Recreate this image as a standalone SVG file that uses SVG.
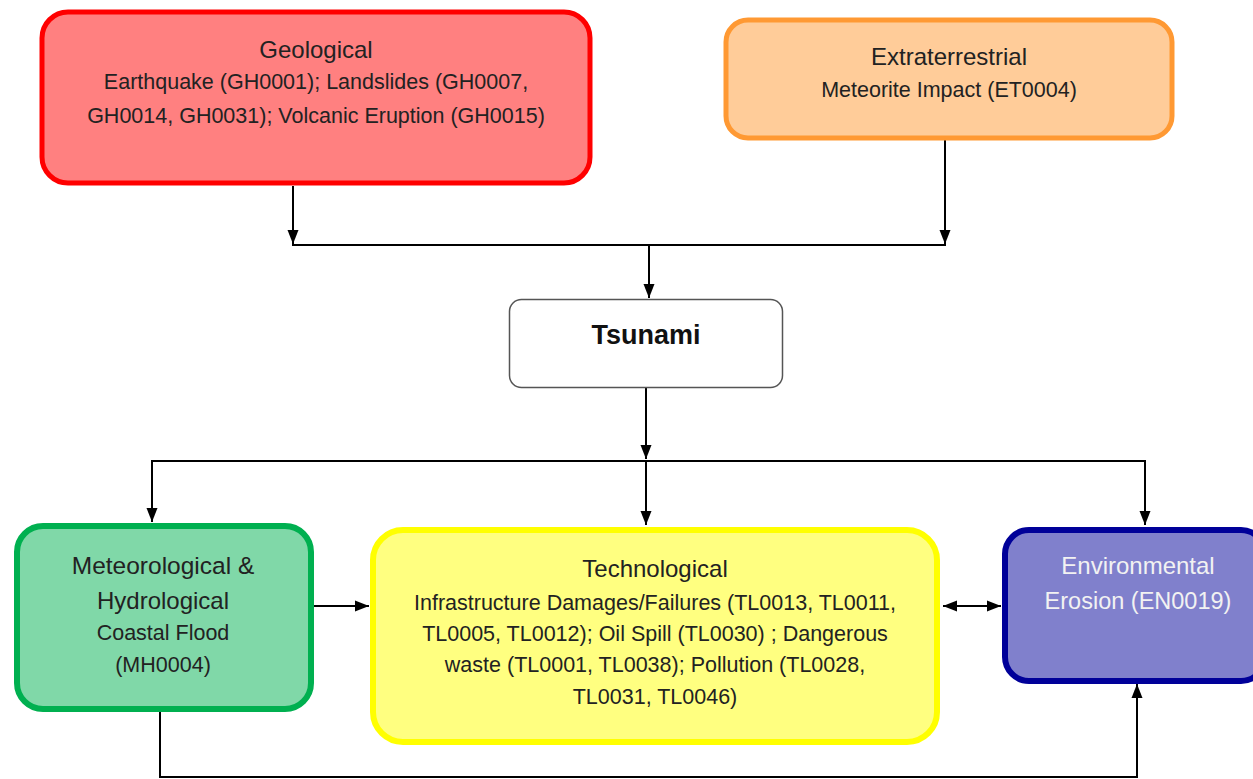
<svg xmlns="http://www.w3.org/2000/svg" width="1253" height="779" viewBox="0 0 1253 779">
<style>
.t{font-family:"Liberation Sans",Arial,sans-serif;text-anchor:middle;fill:#222}
.h{font-size:24px}
.b{font-size:21.5px}
.c{fill:none;stroke:#000;stroke-width:2}
</style>
<defs>
<marker id="ah" viewBox="0 0 14 12" refX="14" refY="6" markerWidth="14" markerHeight="12" markerUnits="userSpaceOnUse" orient="auto-start-reverse">
<path d="M0,0.5 L14,6 L0,11.5 Z" fill="#000"/>
</marker>
</defs>
<rect width="1253" height="779" fill="#fff"/>
<g id="connectors">
<line class="c" x1="293" y1="186" x2="293" y2="244" marker-end="url(#ah)"/>
<line class="c" x1="945" y1="140" x2="945" y2="244" marker-end="url(#ah)"/>
<line class="c" x1="292" y1="245" x2="946" y2="245"/>
<line class="c" x1="649" y1="245" x2="649" y2="298" marker-end="url(#ah)"/>
<line class="c" x1="646" y1="381" x2="646" y2="459" marker-end="url(#ah)"/>
<line class="c" x1="151" y1="461" x2="1146" y2="461"/>
<line class="c" x1="152" y1="461" x2="152" y2="522" marker-end="url(#ah)"/>
<line class="c" x1="646" y1="461" x2="646" y2="525" marker-end="url(#ah)"/>
<line class="c" x1="1145" y1="461" x2="1145" y2="525" marker-end="url(#ah)"/>
<line class="c" x1="314" y1="606" x2="369" y2="606" marker-end="url(#ah)"/>
<line class="c" x1="943" y1="606" x2="1001" y2="606" marker-start="url(#ah)" marker-end="url(#ah)"/>
<polyline class="c" points="160,712 160,777 1137,777 1137,684" marker-end="url(#ah)"/>
</g>
<g id="geological">
<rect x="42" y="12" width="548" height="171" rx="26" fill="#FF8080" stroke="#FF0000" stroke-width="5"/>
<text class="t h" x="316" y="58">Geological</text>
<text class="t b" x="316" y="89">Earthquake (GH0001); Landslides (GH0007,</text>
<text class="t b" x="316" y="123">GH0014, GH0031); Volcanic Eruption (GH0015)</text>
</g>
<g id="extraterrestrial">
<rect x="726" y="20" width="446" height="118" rx="22" fill="#FFCC99" stroke="#FF9933" stroke-width="5"/>
<text class="t h" x="949" y="65">Extraterrestrial</text>
<text class="t b" x="949" y="97">Meteorite Impact (ET0004)</text>
</g>
<g id="tsunami">
<rect x="509.5" y="299.5" width="273" height="88" rx="12" fill="#fff" stroke="#555" stroke-width="1.5"/>
<text class="t" x="646" y="344" style="font-size:27px;font-weight:bold;fill:#111">Tsunami</text>
</g>
<g id="meteorological">
<rect x="17" y="526" width="294" height="183" rx="26" fill="#80D8A8" stroke="#00B050" stroke-width="6"/>
<text class="t h" x="163" y="574" style="font-size:24.5px">Meteorological &amp;</text>
<text class="t h" x="163" y="609">Hydrological</text>
<text class="t b" x="163" y="640">Coastal Flood</text>
<text class="t b" x="163" y="672">(MH0004)</text>
</g>
<g id="technological">
<rect x="373" y="530" width="564" height="212" rx="30" fill="#FFFF80" stroke="#FFFF00" stroke-width="6"/>
<text class="t h" x="655" y="577">Technological</text>
<text class="t b" x="655" y="610">Infrastructure Damages/Failures (TL0013, TL0011,</text>
<text class="t b" x="655" y="641">TL0005, TL0012); Oil Spill (TL0030) ; Dangerous</text>
<text class="t b" x="655" y="672">waste (TL0001, TL0038); Pollution (TL0028,</text>
<text class="t b" x="655" y="704">TL0031, TL0046)</text>
</g>
<g id="environmental">
<rect x="1005" y="530" width="260" height="151" rx="24" fill="#8080CC" stroke="#000099" stroke-width="6"/>
<text class="t h" x="1138" y="574" style="fill:#F2F2F2">Environmental</text>
<text class="t h" x="1138" y="609" style="fill:#F2F2F2;font-size:23.5px">Erosion (EN0019)</text>
</g>
</svg>
